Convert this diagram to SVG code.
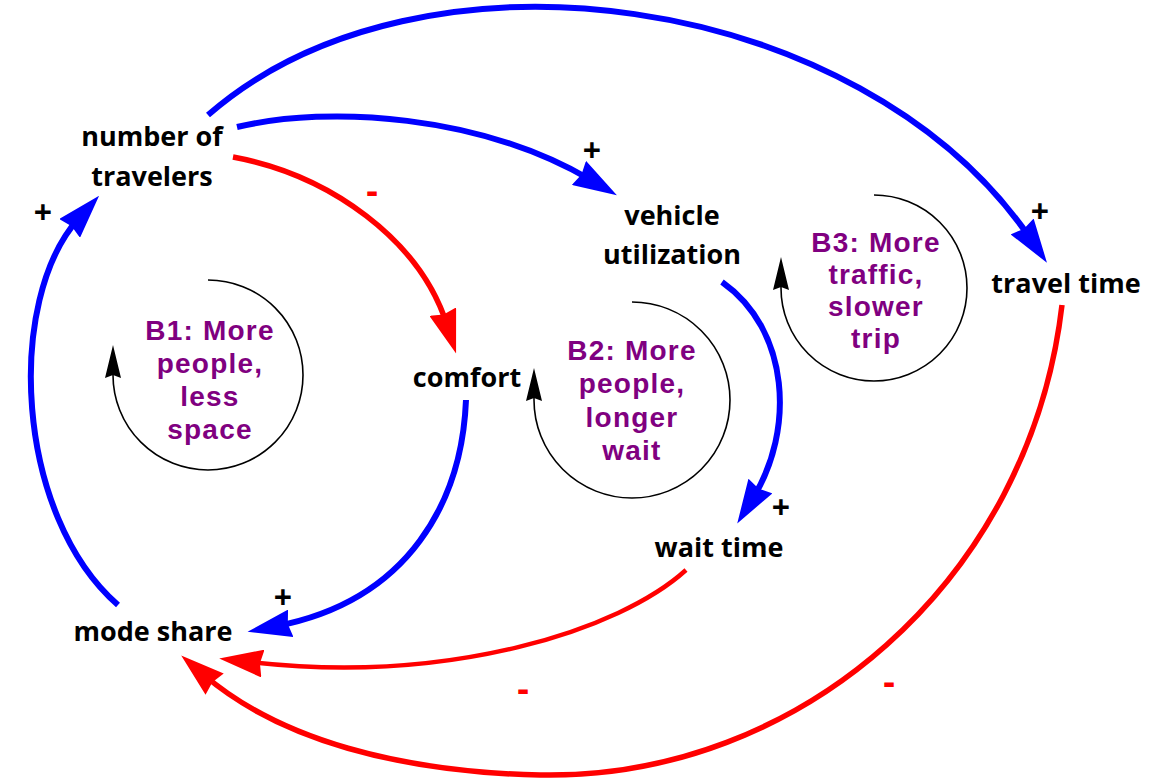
<svg xmlns="http://www.w3.org/2000/svg" width="1156" height="783" viewBox="0 0 1156 783">
  <style>
    .node { font-family: "Open Sans", "Liberation Sans", sans-serif; font-weight: bold; font-size: 27px; fill: #000; text-anchor: middle; }
    .loop { font-family: "Liberation Sans", Arial, sans-serif; font-weight: bold; font-size: 28px; letter-spacing: 1.2px; fill: #800080; text-anchor: middle; }
    .pol { font-family: "Open Sans", "Liberation Sans", sans-serif; font-weight: bold; text-anchor: middle; }
    .plus { fill: #000; font-size: 32px; }
    .minus { fill: #ff0000; font-size: 36px; }
    .pos { fill: none; stroke: #0000ff; stroke-width: 6; }
    .neg { fill: none; stroke: #ff0000; stroke-width: 5.5; }
    .negthin { fill: none; stroke: #ff0000; stroke-width: 4.5; }
    .cycle { fill: none; stroke: #000; stroke-width: 1.6; }
  </style>
  <defs>
    <marker id="headBlue" markerUnits="userSpaceOnUse" viewBox="0 0 44 28" markerWidth="44" markerHeight="28" refX="14" refY="14" orient="auto">
      <path d="M0,0 L44,14 L0,28 L3,14 z" fill="#0000ff"/>
    </marker>
    <marker id="headRed" markerUnits="userSpaceOnUse" viewBox="0 0 44 28" markerWidth="44" markerHeight="28" refX="14" refY="14" orient="auto">
      <path d="M0,0 L44,14 L0,28 L3,14 z" fill="#ff0000"/>
    </marker>
    <path id="loopHead" d="M0,-33 L8,0 L0,-3 L-8,0 z" fill="#000"/>
  </defs>

  <rect width="1156" height="783" fill="#ffffff"/>

  <g id="connectors">
    <!-- number of travelers -> travel time -->
    <path class="pos" d="M208,115 C420,-70 860,-10 1030,238" marker-end="url(#headBlue)"/>
    <!-- number of travelers -> vehicle utilization -->
    <path class="pos" d="M237,127 C330,105 480,115 591,180" marker-end="url(#headBlue)"/>
    <!-- number of travelers -> comfort -->
    <path class="neg" d="M233,157 C330,175 420,240 447,325" marker-end="url(#headRed)"/>
    <!-- comfort -> mode share -->
    <path class="pos" d="M466,400 C462,500 410,600 277,626" marker-end="url(#headBlue)"/>
    <!-- mode share -> number of travelers -->
    <path class="pos" d="M118,605 C15,515 5,300 79,218" marker-end="url(#headBlue)"/>
    <!-- vehicle utilization -> wait time -->
    <path class="pos" d="M722,282 C790,330 795,430 753,498" marker-end="url(#headBlue)"/>
    <!-- wait time -> mode share -->
    <path class="negthin" d="M686,570 C620,630 450,685 249,662" marker-end="url(#headRed)"/>
    <!-- travel time -> mode share -->
    <path class="neg" d="M1062,305 C1030,580 800,780 540,775 C400,772 280,740 204,675" marker-end="url(#headRed)"/>

    <!-- link polarities -->
    <text class="pol plus" x="43" y="224">+</text>
    <text class="pol plus" x="592" y="162">+</text>
    <text class="pol plus" x="1040" y="223">+</text>
    <text class="pol plus" x="781" y="519">+</text>
    <text class="pol plus" x="283" y="609">+</text>
    <text class="pol minus" x="372" y="203">-</text>
    <text class="pol minus" x="523" y="701">-</text>
    <text class="pol minus" x="889" y="694">-</text>
  </g>

  <g id="loop-b1">
    <path class="cycle" d="M208,280 A95,95 0 1 1 113,375 L113,372"/>
    <use href="#loopHead" x="113" y="378"/>
    <text class="loop" x="210" y="340">B1: More<tspan x="210" dy="33">people,</tspan><tspan x="210" dy="33">less</tspan><tspan x="210" dy="33">space</tspan></text>
  </g>

  <g id="loop-b2">
    <path class="cycle" d="M632,302 A98,98 0 1 1 534,400 L534,397"/>
    <use href="#loopHead" x="534" y="401"/>
    <text class="loop" x="632" y="360">B2: More<tspan x="632" dy="33">people,</tspan><tspan x="632" dy="34">longer</tspan><tspan x="632" dy="33">wait</tspan></text>
  </g>

  <g id="loop-b3">
    <path class="cycle" d="M874,195 A93,93 0 1 1 781,288 L781,285"/>
    <use href="#loopHead" x="781" y="290"/>
    <text class="loop" x="876" y="252">B3: More<tspan x="876" dy="32">traffic,</tspan><tspan x="876" dy="32">slower</tspan><tspan x="876" dy="32">trip</tspan></text>
  </g>

  <g id="number-of-travelers">
    <text class="node" x="152" y="146">number of<tspan x="152" dy="40">travelers</tspan></text>
  </g>
  <g id="vehicle-utilization">
    <text class="node" x="672" y="225">vehicle<tspan x="672" dy="39">utilization</tspan></text>
  </g>
  <g id="comfort">
    <text class="node" x="467" y="387">comfort</text>
  </g>
  <g id="travel-time">
    <text class="node" x="1066" y="293">travel time</text>
  </g>
  <g id="wait-time">
    <text class="node" x="719" y="557">wait time</text>
  </g>
  <g id="mode-share">
    <text class="node" x="153" y="641">mode share</text>
  </g>
</svg>
